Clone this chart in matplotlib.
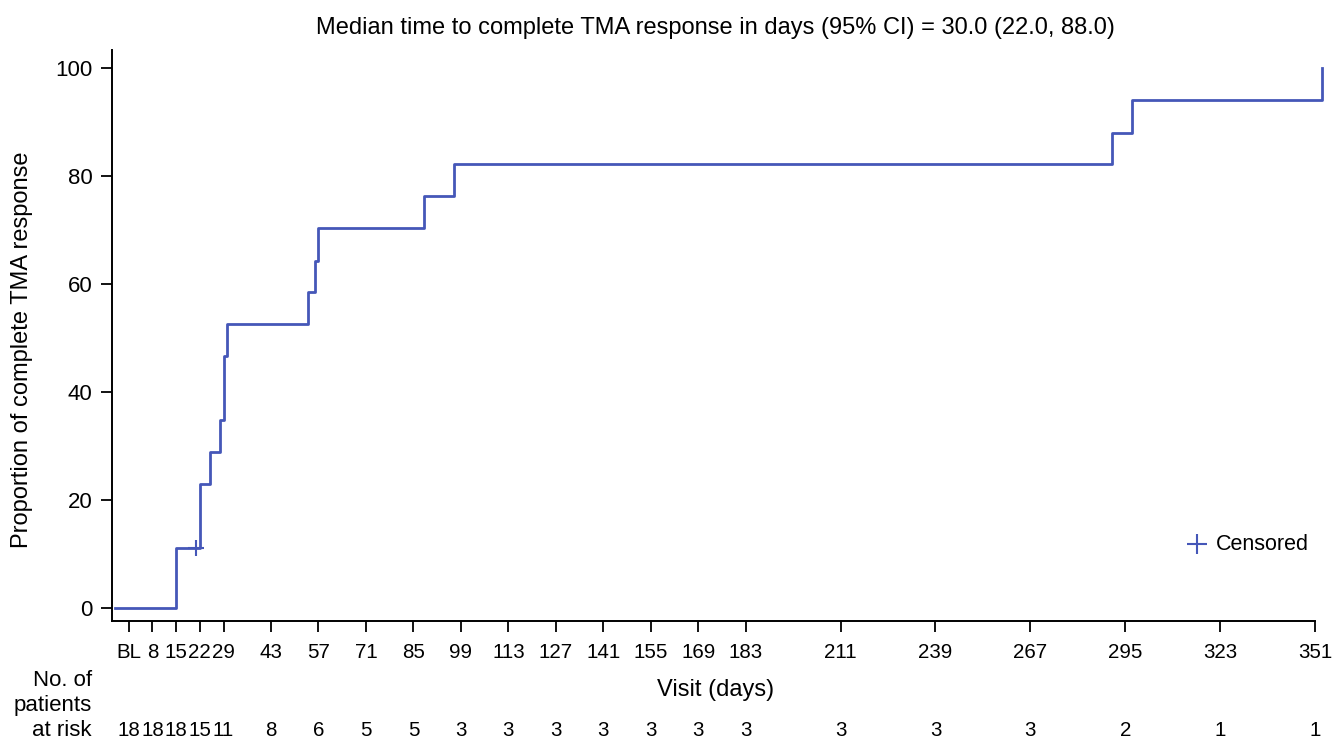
import matplotlib
matplotlib.use("Agg")
import matplotlib.pyplot as plt
import matplotlib.transforms as mtransforms

plt.rcParams['font.family'] = ['Liberation Sans', 'DejaVu Sans']

# Data
tick_days = [1, 8, 15, 22, 29, 43, 57, 71, 85, 99, 113, 127, 141, 155, 169, 183, 211, 239, 267, 295, 323, 351]
tick_labels = ['BL', '8', '15', '22', '29', '43', '57', '71', '85', '99', '113', '127', '141', '155',
               '169', '183', '211', '239', '267', '295', '323', '351']
at_risk = [18, 18, 18, 15, 11, 8, 6, 5, 5, 3, 3, 3, 3, 3, 3, 3, 3, 3, 3, 2, 1, 1]

step_days = [-3, 15, 22, 25, 28, 29, 30, 54, 56, 57, 88, 97, 291, 297, 353]
step_pct = [0.0, 11.1, 23.0, 28.9, 34.8, 46.7, 52.6, 58.5, 64.4, 70.4, 76.3, 82.2, 88.1, 94.1, 100.0]
censor_days = [21]
censor_pct = [11.1]

title = "Median time to complete TMA response in days (95% CI) = 30.0 (22.0, 88.0)"

color = '#4557b8'
fs = 17
xtick_fs = 14.8
ytick_fs = 16

fig = plt.figure(figsize=(13.33, 7.40), dpi=100)
ax = fig.add_axes([0.0838, 0.1608, 0.9104, 0.7716])

ax.step(step_days, step_pct, where='post', color=color, lw=2.0)
ax.plot(censor_days, censor_pct, linestyle='none', marker='+', markersize=12,
        markeredgewidth=1.5, color=color)

ax.set_xlim(-4, 354)
ax.set_ylim(-2.35, 103.4)
ax.spines['top'].set_visible(False)
ax.spines['right'].set_visible(False)
ax.spines['bottom'].set_bounds(-4, 351)
for s in ('left', 'bottom'):
    ax.spines[s].set_linewidth(1.4)

ax.set_xticks(tick_days)
ax.set_xticklabels(tick_labels)
ax.set_yticks([0, 20, 40, 60, 80, 100])
ax.tick_params(axis='both', direction='out', length=8, width=1.3)
ax.tick_params(axis='x', labelsize=xtick_fs, pad=8)
ax.tick_params(axis='y', labelsize=ytick_fs, pad=6)

fig.text(22 / 1333, 1 - 350 / 740, 'Proportion of complete TMA response', rotation=90,
         ha='center', va='center', fontsize=fs)
fig.text(715 / 1333, 1 - 28 / 740, title, ha='center', va='center', fontsize=fs)

# Visit label
fig.text(716 / 1333, 1 - 690 / 740, 'Visit (days)', ha='center', va='center', fontsize=fs)

# At-risk table
blend = mtransforms.blended_transform_factory(ax.transData, fig.transFigure)
for d, n in zip(tick_days, at_risk):
    ax.text(d, 1 - 731 / 740, str(n), transform=blend, ha='center', va='center',
            fontsize=xtick_fs)

for txt, ypx in [('No. of', 680), ('patients', 705), ('at risk', 730)]:
    fig.text(92 / 1333, 1 - ypx / 740, txt, ha='right', va='center', fontsize=16)

# Legend
fig.add_artist(matplotlib.lines.Line2D([1197 / 1333], [1 - 544 / 740], transform=fig.transFigure,
                                       marker='+', markersize=14, markeredgewidth=1.5,
                                       color=color, linestyle='none'))
fig.text(1216 / 1333, 1 - 544 / 740, 'Censored', ha='left', va='center', fontsize=15.5)

fig.savefig('out.png', dpi=100)
